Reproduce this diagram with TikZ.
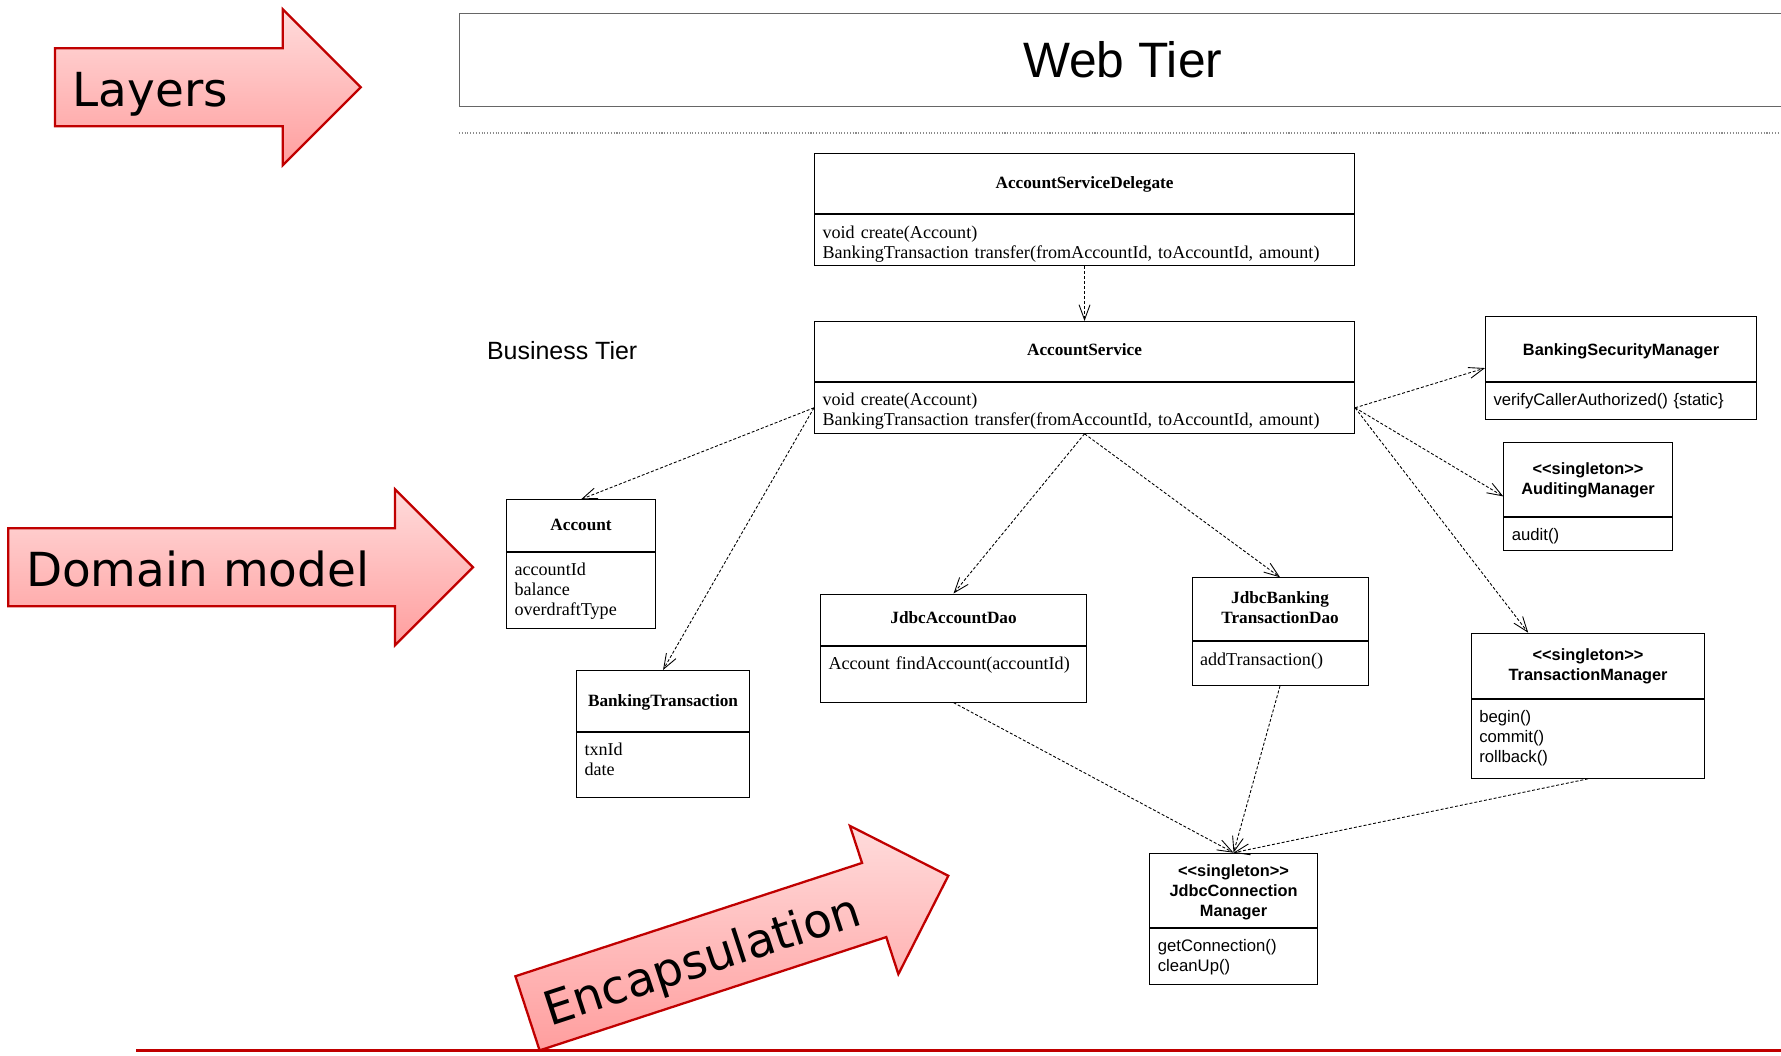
\documentclass[tikz,border=0pt]{standalone}
\usepackage{fontspec}
\setmainfont{Liberation Serif}
\setsansfont{Liberation Sans}
\newfontfamily\arrowfont{DejaVu Sans}
\usetikzlibrary{shapes,arrows.meta,positioning,calc}

\definecolor{arrowred}{RGB}{192,0,0}

%% << >> would turn into guillemets
\newcommand{\stereo}[1]{<\kern0pt<#1>\kern0pt>}

%% fat red arrow: name, tail, angle, shaft length, text
\newcommand{\bigarrow}[5]{%
  \begin{scope}[shift={#2}, rotate=#3]
    \filldraw[fatarrow] (0,-39) -- (#4,-39) -- (#4,-78) -- (#4+78,0)
        -- (#4,78) -- (#4,39) -- (0,39) -- cycle;
    \node[fatlabel] (#1) at (17.5,19.4) {#5};
  \end{scope}}

\begin{document}
\begin{tikzpicture}[x=0.2mm, y=-0.2mm,
    fatarrow/.style={draw=arrowred, line width=1.3pt, top color=red!14, bottom color=red!38},
    fatlabel/.style={anchor=base west, inner sep=0pt, transform shape,
        font=\arrowfont\fontsize{26.7}{32}\selectfont},
    classhead/.style={draw, line width=0.6pt, anchor=north west, inner xsep=1.6mm, inner ysep=0pt,
        align=center, font=\bfseries\fontsize{9.8}{11.38}\selectfont},
    classbody/.style={draw, line width=0.6pt, inner xsep=1.6mm, inner ysep=0pt,
        align=left, font=\fontsize{10.3}{11.38}\selectfont},
    sanshead/.style={classhead, font=\sffamily\bfseries\fontsize{9.3}{11.38}\selectfont},
    sansbody/.style={classbody, font=\sffamily\fontsize{9.5}{11.38}\selectfont},
    uses/.style={line width=0.5pt, dash pattern=on 1.7pt off 1.1pt,
        -{Straight Barb[length=3mm, width=2.2mm]}}]

    \useasboundingbox (0,0) rectangle (1781,1055);

    %%tiers
    \node[draw=black!60, line width=0.8pt, anchor=north west, minimum width=265.2mm, minimum height=18.6mm,
        font=\sffamily\fontsize{28.3}{34}\selectfont] (webtier) at (459,13) {Web Tier};
    \draw[black!45, line width=0.6pt, densely dotted] (459,133) -- (1778,133);
    \node[anchor=base west, inner sep=0pt, font=\sffamily\fontsize{14.2}{17}\selectfont]
        (bustier) at (486.7,359.3) {Business Tier};

    %%service classes
    \node[classhead, text width=104.8mm, text height=7mm, text depth=5mm] (delegate) at (814,153.3) {AccountServiceDelegate};
    \node[classbody, text width=104.8mm, text height=4.7mm, text depth=5.5mm, below=0pt of delegate] (delegate-ops)
        {void create(Account)\\BankingTransaction transfer(fromAccountId, toAccountId, amount)};

    \node[classhead, text width=104.8mm, text height=6.8mm, text depth=5.14mm] (service) at (814,321) {AccountService};
    \node[classbody, text width=104.8mm, text height=4.7mm, text depth=5.5mm, below=0pt of service] (service-ops)
        {void create(Account)\\BankingTransaction transfer(fromAccountId, toAccountId, amount)};

    %%domain model
    \node[classhead, text width=26.6mm, text height=6.14mm, text depth=4.14mm] (account) at (506,499.3) {Account};
    \node[classbody, text width=26.6mm, text height=4.72mm, text depth=10.48mm, below=0pt of account] (account-ops)
        {accountId\\balance\\overdraftType};

    \node[classhead, text width=31.4mm, text height=7.2mm, text depth=4.94mm] (banktxn) at (576,670) {BankingTransaction};
    \node[classbody, text width=31.4mm, text height=4.66mm, text depth=8.4mm, below=0pt of banktxn] (banktxn-ops)
        {txnId\\date};

    %%daos
    \node[classhead, text width=50mm, text height=5.96mm, text depth=4.34mm] (acctdao) at (820,593.5) {JdbcAccountDao};
    \node[classbody, text width=50mm, text height=4.66mm, text depth=6.44mm, below=0pt of acctdao] (acctdao-ops)
        {Account findAccount(accountId)};

    \node[classhead, text width=32mm, text height=5.14mm, text depth=7.3mm] (txndao) at (1191.5,577.3) {JdbcBanking\\TransactionDao};
    \node[classbody, text width=32mm, text height=4.9mm, text depth=3.94mm, below=0pt of txndao] (txndao-ops)
        {addTransaction()};

    %%managers
    \node[sanshead, text width=51mm, text height=7.76mm, text depth=5.3mm] (secmgr) at (1485,315.7) {BankingSecurityManager};
    \node[sansbody, text width=51mm, text height=4.6mm, text depth=2.86mm, below=0pt of secmgr] (secmgr-ops)
        {verifyCallerAuthorized() \{static\}};

    \node[sanshead, text width=30.48mm, text height=6.46mm, text depth=8.4mm] (audmgr) at (1503.3,441.7) {\stereo{singleton}\\AuditingManager};
    \node[sansbody, text width=30.48mm, text height=4.5mm, text depth=2.1mm, below=0pt of audmgr] (audmgr-ops)
        {audit()};

    \node[sanshead, text width=43.52mm, text height=5.36mm, text depth=7.7mm] (txnmgr) at (1470.7,632.7) {\stereo{singleton}\\TransactionManager};
    \node[sansbody, text width=43.52mm, text height=4.6mm, text depth=11.14mm, below=0pt of txnmgr] (txnmgr-ops)
        {begin()\\commit()\\rollback()};

    \node[sanshead, text width=30.28mm, text height=4.56mm, text depth=10.24mm] (connmgr) at (1149.3,852.7) {\stereo{singleton}\\JdbcConnection\\Manager};
    \node[sansbody, text width=30.28mm, text height=4.66mm, text depth=6.6mm, below=0pt of connmgr] (connmgr-ops)
        {getConnection()\\cleanUp()};

    %%dependencies
    \draw[uses] (delegate-ops.south) -- (service.north);
    \draw[uses] (service-ops.west) -- (account.north);
    \draw[uses] (service-ops.west) -- (banktxn.north);
    \draw[uses] (service-ops.south) -- (acctdao.north);
    \draw[uses] (service-ops.south) -- (txndao.north);
    \draw[uses] (service-ops.east) -- ($(secmgr.north west)!.5!(secmgr-ops.south west)$);
    \draw[uses] (service-ops.east) -- ($(audmgr.north west)!.5!(audmgr-ops.south west)$);
    \draw[uses] (service-ops.east) -- ($(txnmgr.north west)!.245!(txnmgr.north east)$);
    \draw[uses] (acctdao-ops.south) -- (connmgr.north);
    \draw[uses] (txndao-ops.south) -- (connmgr.north);
    \draw[uses] (txnmgr-ops.south) -- (connmgr.north);

    %%red arrows
    \bigarrow{layers}{(55,87.3)}{0}{227.7}{Layers}
    \bigarrow{domain}{(8.3,567.3)}{0}{386.7}{Domain model}
    \bigarrow{encaps}{(527.5,1013.3)}{18.1}{364.7}{Encapsulation}

    \draw[arrowred, line width=1.9pt] (136,1050.5) -- (1781,1050.5);

\end{tikzpicture}
\end{document}
